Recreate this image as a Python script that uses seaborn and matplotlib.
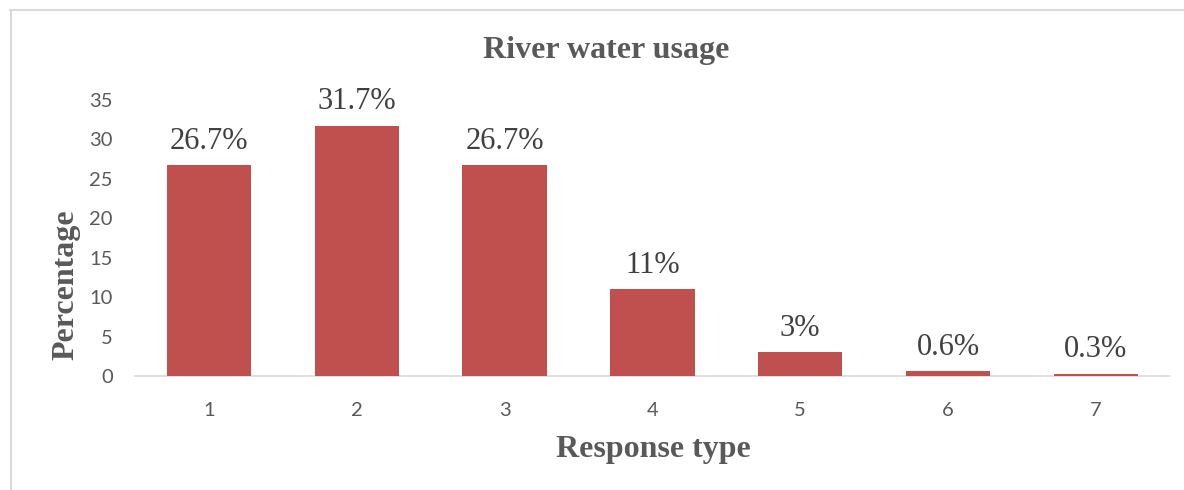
import matplotlib
matplotlib.use("Agg")
import matplotlib.pyplot as plt
from matplotlib.lines import Line2D
import seaborn as sns
import pandas as pd

# Survey results: share of respondents per response type
response_types = ["1", "2", "3", "4", "5", "6", "7"]
percentages = [26.7, 31.7, 26.7, 11, 3, 0.6, 0.3]
value_labels = ["26.7%", "31.7%", "26.7%", "11%", "3%", "0.6%", "0.3%"]
y_ticks = [0, 5, 10, 15, 20, 25, 30, 35]

df = pd.DataFrame({"Response type": response_types, "Percentage": percentages})

sns.set_theme(style="white")
plt.rcParams["font.family"] = ["Lato", "DejaVu Sans"]

fig = plt.figure(figsize=(11.84, 4.90), dpi=100)
ax = fig.add_axes([0.114, 0.2327, 0.874, 0.5633])

bar_color = "#C0504D"
sns.barplot(data=df, x="Response type", y="Percentage", color=bar_color,
            width=0.57, saturation=1, ax=ax, order=response_types,
            linewidth=0, edgecolor=bar_color)
# keep bars above the baseline so the tiny ones stay visible
for patch in ax.patches:
    patch.set_zorder(3)

ax.set_ylim(0, 35)
ax.set_xlim(-0.5, len(response_types) - 0.5)
ax.set_yticks(y_ticks)
ax.set_yticklabels([str(t) for t in y_ticks])

for spine in ["top", "right", "left"]:
    ax.spines[spine].set_visible(False)
ax.spines["bottom"].set_color("#D9D9D9")
ax.spines["bottom"].set_linewidth(1.2)
ax.spines["bottom"].set_zorder(1)

ax.tick_params(axis="both", length=0, labelsize=14.5, colors="#595959")
ax.tick_params(axis="x", pad=19)
ax.tick_params(axis="y", pad=16)
ax.set_xlabel("")
ax.set_ylabel("")

# value labels above each bar
for i, (v, lab) in enumerate(zip(percentages, value_labels)):
    ax.annotate(lab, xy=(i, v), xytext=(0, 7), textcoords="offset points",
                ha="center", va="bottom", fontsize=22,
                family="Liberation Serif", color="#404040")

serif_bold = dict(family="Liberation Serif", fontweight="bold", color="#595959", fontsize=23)
fig.text(0.512, 0.896, "River water usage", ha="center", va="center", **serif_bold)
fig.text(0.552, 0.082, "Response type", ha="center", va="center", **serif_bold)
fig.text(0.056, 0.418, "Percentage", ha="center", va="center", rotation=90, **serif_bold)

# light frame along the top and left edges
frame_color = "#D9D9D9"
fig.add_artist(Line2D([10 / 1184, 1.0], [1 - 10.5 / 490, 1 - 10.5 / 490],
                      transform=fig.transFigure, color=frame_color, lw=1.5))
fig.add_artist(Line2D([10.5 / 1184, 10.5 / 1184], [0.0, 1 - 10 / 490],
                      transform=fig.transFigure, color=frame_color, lw=1.5))

fig.savefig("out.png", dpi=100)
